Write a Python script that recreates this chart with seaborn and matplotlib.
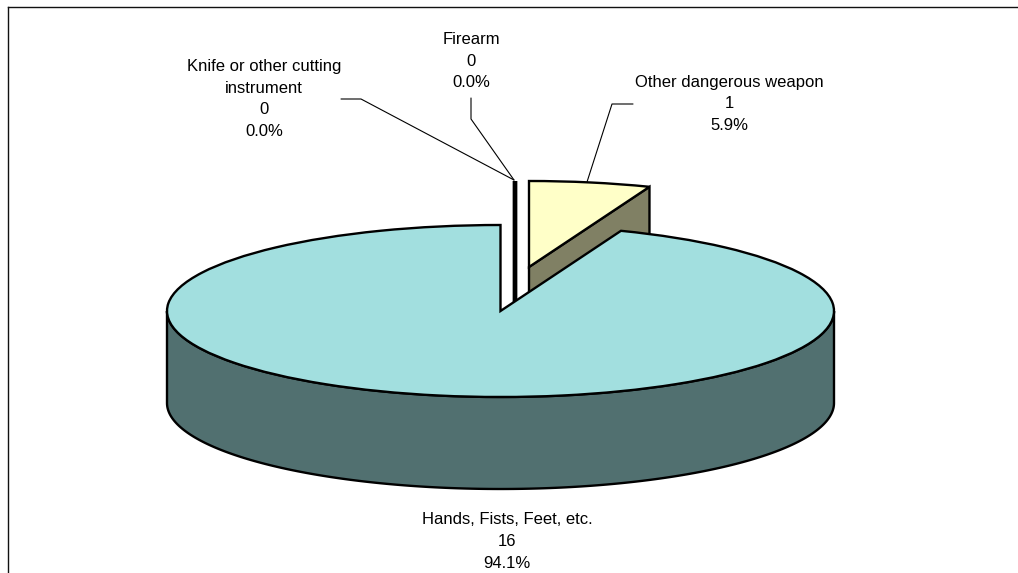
import numpy as np
import matplotlib
matplotlib.use("Agg")
import matplotlib.pyplot as plt
from matplotlib.colors import to_rgb
from matplotlib.transforms import Affine2D
import seaborn as sns

# ---- data ----
categories = ["Other dangerous weapon", "Hands, Fists, Feet, etc.",
              "Knife or other cutting\ninstrument", "Firearm"]
values = [1, 16, 0, 0]
top_colors = ["#FFFFC8", "#A2DFDF", "#FFFFFF", "#FFFFFF"]

# ---- layout (pixels of the 1018x573 canvas) ----
W, H = 1018, 573
CX, CY, RX, RY, DEPTH = 500.5, 311, 333.5, 86, 92
FRAME_L, FRAME_T = 7.5, 6.5
EDGE = 1.7
shifts_px = [(28.5, -44), (0, 0), (13.8, -44), (15.3, -44)]
label_xy = [(729, 104), (507, 541.5), (264, 99), (471, 61)]
leaders = [[(633, 104), (612, 104), (587, 182)],
           [],
           [(341, 99), (361, 99), (514, 180)],
           [(471, 98), (471, 119), (514, 180)]]

sns.set_theme(style="white")
plt.rcParams["font.family"] = ["Liberation Sans", "DejaVu Sans"]

fig = plt.figure(figsize=(W / 100, H / 100), dpi=100, facecolor="white")
ax = fig.add_axes([FRAME_L / W, 0, 1 - FRAME_L / W, 1 - FRAME_T / H])
wedges, _ = ax.pie(values, colors=top_colors, startangle=90, counterclock=False,
                   wedgeprops=dict(edgecolor="black", linewidth=EDGE))
ax.set_aspect("auto")
ax.set_xlim((FRAME_L - CX) / RX, (W - CX) / RX)
ax.set_ylim((CY - H) / RY, (CY - FRAME_T) / RY)
ax.set_xticks([])
ax.set_yticks([])
ax.set_frame_on(True)
sns.despine(ax=ax, right=True, bottom=True, left=False, top=False)
for side in ("left", "top"):
    ax.spines[side].set_color("#111111")
    ax.spines[side].set_linewidth(1.0)

px = Affine2D().scale(1 / W, -1 / H).translate(0, 1) + fig.transFigure
depth = DEPTH / RY
total = sum(values)


def shade(color):
    return tuple(0.5 * c for c in to_rgb(color))


def front_wall(c, t1, t2, color, z):
    """Outer wall of a slice between two angles (degrees)."""
    t = np.radians(np.linspace(t1, t2, 200))
    x = c[0] + np.cos(t)
    y = c[1] + np.sin(t)
    ax.fill(np.r_[x, x[::-1]], np.r_[y, y[::-1] - depth], facecolor=shade(color),
            edgecolor="black", linewidth=EDGE, zorder=z)


def radial_wall(c, t, color, z):
    """Flat cut face of a slice hanging below one radial edge."""
    a = np.radians(t)
    ex, ey = c[0] + np.cos(a), c[1] + np.sin(a)
    ax.fill([c[0], ex, ex, c[0]], [c[1], ey, ey - depth, c[1] - depth],
            facecolor=shade(color), edgecolor="black", linewidth=EDGE, zorder=z)


# back-to-front: exploded slices first, the big slice last
order = [3, 2, 0, 1]
for rank, i in enumerate(order):
    w = wedges[i]
    c = (shifts_px[i][0] / RX, -shifts_px[i][1] / RY)
    w.set_center(c)
    z = 2 + rank * 2
    w.set_zorder(z + 1)
    if values[i] / total > 0.5:
        front_wall(c, 0, -180, top_colors[i], z)
    else:
        radial_wall(c, w.theta1, top_colors[i], z)
    w.set_clip_on(False)

for name, v, (x, y), pts in zip(categories, values, label_xy, leaders):
    ax.text(x, y, f"{name}\n{v}\n{v / total:.1%}", transform=px, ha="center",
            va="center", fontsize=12, color="black", linespacing=1.58,
            zorder=20, clip_on=False)
    if pts:
        xs, ys = zip(*pts)
        ax.plot(xs, ys, transform=px, color="black", lw=0.8, zorder=1, clip_on=False)

fig.savefig("out.png", dpi=100, facecolor="white")
